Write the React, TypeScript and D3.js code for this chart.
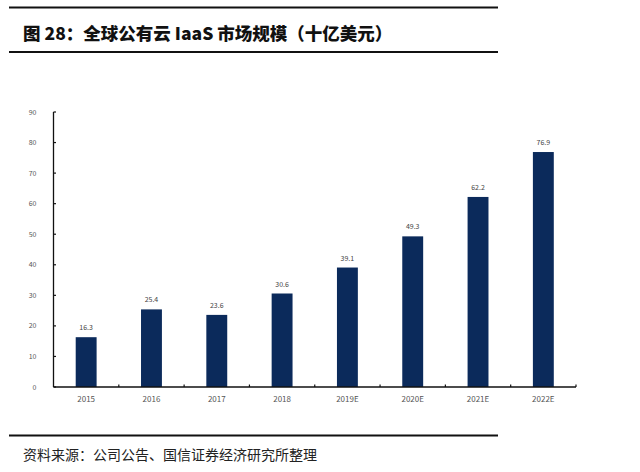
import * as d3 from "d3";

const W = 640;
const H = 472;

// 全球公有云 IaaS 市场规模（十亿美元）
const years = ["2015", "2016", "2017", "2018", "2019E", "2020E", "2021E", "2022E"];
const values = [16.3, 25.4, 23.6, 30.6, 39.1, 49.3, 62.2, 76.9];
const yTicks = [0, 10, 20, 30, 40, 50, 60, 70, 80, 90];

const PLOT = { left: 53.5, right: 576, top: 112, bottom: 387 };
const BAR = "#0b2a5b";

export default function App() {
  const x = d3
    .scaleBand<string>()
    .domain(years)
    .range([PLOT.left, PLOT.right])
    .paddingInner(0.68)
    .paddingOuter(0.34);
  const y = d3.scaleLinear().domain([0, 90]).range([PLOT.bottom, PLOT.top]);
  const step = x.step();
  // category boundaries for the x-axis tick marks
  const bounds = d3.range(1, years.length + 1).map((i) => PLOT.left + i * step);

  return (
    <svg
      width={W}
      height={H}
      viewBox={`0 0 ${W} ${H}`}
      style={{ position: "absolute", left: 0, top: 0, background: "#fff" }}
      fontFamily="'Noto Sans CJK SC', 'Noto Sans', sans-serif"
    >
      {/* title block */}
      <line x1={9} x2={498} y1={7.5} y2={7.5} stroke="#111" strokeWidth={1.8} />
      <text x={23} y={40} fontSize={17.5} fontWeight={900} fill="#111">
        图 28：全球公有云 IaaS 市场规模（十亿美元）
      </text>
      <line x1={9} x2={498} y1={52} y2={52} stroke="#111" strokeWidth={1.8} />

      {/* bars */}
      {years.map((yr, i) => (
        <g key={yr}>
          <rect
            x={x(yr)}
            y={y(values[i])}
            width={x.bandwidth()}
            height={y(0) - y(values[i])}
            fill={BAR}
          />
          <text
            x={(x(yr) ?? 0) + x.bandwidth() / 2}
            y={y(values[i]) - 7}
            fontSize={7}
            textAnchor="middle"
            fill="#444"
          >
            {values[i].toFixed(1)}
          </text>
          <text
            x={(x(yr) ?? 0) + x.bandwidth() / 2}
            y={PLOT.bottom + 15}
            fontSize={8}
            textAnchor="middle"
            fill="#555"
          >
            {yr}
          </text>
        </g>
      ))}

      {/* axes */}
      <line x1={PLOT.left} x2={PLOT.left} y1={PLOT.top} y2={PLOT.bottom} stroke="#111" strokeWidth={1.3} />
      <line x1={PLOT.left} x2={PLOT.right} y1={PLOT.bottom} y2={PLOT.bottom} stroke="#111" strokeWidth={1.3} />
      {yTicks.map((t) => (
        <g key={t} transform={`translate(${PLOT.left},${y(t)})`}>
          <line x2={2.5} stroke="#111" strokeWidth={1.2} />
          <text x={-17} y={2.5} fontSize={7} textAnchor="end" fill="#555">
            {t}
          </text>
        </g>
      ))}
      {bounds.map((b, i) => (
        <line key={i} x1={b} x2={b} y1={PLOT.bottom} y2={PLOT.bottom - 2.5} stroke="#111" strokeWidth={1.2} />
      ))}

      {/* source block */}
      <line x1={9} x2={498} y1={435.5} y2={435.5} stroke="#111" strokeWidth={1.8} />
      <text x={23} y={460} fontSize={14} fill="#222">
        资料来源：公司公告、国信证券经济研究所整理
      </text>
    </svg>
  );
}
